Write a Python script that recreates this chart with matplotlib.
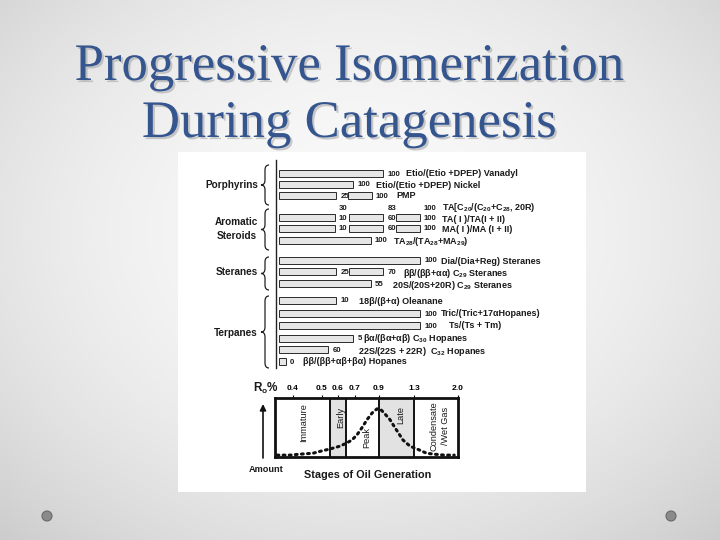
import numpy as np
import matplotlib
matplotlib.use("Agg")
import matplotlib.pyplot as plt
from matplotlib.patches import Rectangle, Circle, PathPatch
from matplotlib.path import Path
import matplotlib.patheffects as pe

plt.rcParams['font.family'] = ['Liberation Sans', 'DejaVu Sans']
plt.rcParams['mathtext.fontset'] = 'custom'
plt.rcParams['mathtext.rm'] = 'Liberation Sans'
plt.rcParams['mathtext.default'] = 'regular'

# ---------------- data ----------------
title_lines = ["Progressive Isomerization", "During Catagenesis"]
groups = ["Porphyrins", "Aromatic\nSteroids", "Steranes", "Terpanes"]

parameters = [
    "Etio/(Etio +DPEP) Vanadyl",
    "Etio/(Etio +DPEP) Nickel",
    "PMP",
    r"TA[C$_{20}$/(C$_{20}$+C$_{28}$, 20R)",
    "TA( I )/TA(I + II)",
    "MA( I )/MA (I + II)",
    r"TA$_{28}$/(TA$_{28}$+MA$_{29}$)",
    "Dia/(Dia+Reg) Steranes",
    r"ββ/(ββ+αα) C$_{29}$ Steranes",
    r"20S/(20S+20R) C$_{29}$ Steranes",
    "18β/(β+α) Oleanane",
    "Tric/(Tric+17αHopanes)",
    "Ts/(Ts + Tm)",
    r"βα/(βα+αβ) C$_{30}$ Hopanes",
    r"22S/(22S + 22R)  C$_{32}$ Hopanes",
    "ββ/(ββ+αβ+βα) Hopanes",
]

# Ro% ranges of the bars (start, end)
segments = [
    [(0.35, 0.95)],
    [(0.35, 0.69)],
    [(0.35, 0.59), (0.66, 0.84)],
    [],
    [(0.35, 0.58), (0.665, 0.95), (1.09, 1.39)],
    [(0.35, 0.58), (0.665, 0.95), (1.09, 1.39)],
    [(0.35, 0.83)],
    [(0.35, 1.40)],
    [(0.35, 0.59), (0.665, 0.95)],
    [(0.35, 0.83)],
    [(0.35, 0.59)],
    [(0.35, 1.40)],
    [(0.35, 1.40)],
    [(0.35, 0.69)],
    [(0.35, 0.54)],
    [(0.35, 0.375)],
]

# ratio values (%) reached at given Ro
value_labels = [
    [(0.95, "100")],
    [(0.69, "100")],
    [(0.59, "25"), (0.84, "100")],
    [(0.58, "30"), (0.95, "83"), (1.39, "100")],
    [(0.58, "10"), (0.95, "60"), (1.39, "100")],
    [(0.58, "10"), (0.95, "60"), (1.39, "100")],
    [(0.83, "100")],
    [(1.40, "100")],
    [(0.59, "25"), (0.95, "70")],
    [(0.83, "55")],
    [(0.59, "10")],
    [(1.40, "100")],
    [(1.40, "100")],
    [(0.69, "5")],
    [(0.54, "60")],
    [(0.375, "0")],
]

ro_ticks = [0.4, 0.5, 0.6, 0.7, 0.9, 1.3, 2.0]
ro_tick_labels = ["0.4", "0.5", "0.6", "0.7", "0.9", "1.3", "2.0"]
stage_names = ["Immature", "Early", "Peak", "Late", "Condensate\n/Wet Gas"]
stage_bounds = [0.338, 0.55, 0.65, 0.9, 1.3, 2.0]
stage_shaded = [False, True, False, True, False]

gen_ro = [0.345, 0.39, 0.424, 0.469, 0.50, 0.55, 0.612, 0.653, 0.682, 0.717,
          0.758, 0.80, 0.842, 0.883, 0.923, 0.969, 1.026, 1.083, 1.174,
          1.254, 1.348, 1.50, 1.62, 1.78, 1.94]
gen_amount = [0.02, 0.02, 0.04, 0.06, 0.11, 0.15, 0.21, 0.28, 0.34, 0.45,
              0.60, 0.77, 0.91, 1.00, 0.98, 0.89, 0.77, 0.60, 0.34,
              0.21, 0.15, 0.06, 0.04, 0.02, 0.02]

# ---------------- layout ----------------
W, H = 720, 540
RO_K = [-1.0, 0.4, 0.5, 0.6, 0.7, 0.9, 1.3, 2.0, 10.0]
PX_K = [293 - 1.4 * 290, 293, 322, 338, 355, 379, 414, 458, 458 + 8 * 63]


def fwd(r):
    return np.interp(r, RO_K, PX_K)


def inv(p):
    return np.interp(p, PX_K, RO_K)


row_y = [173, 184, 195, 207, 217, 228, 240, 260, 271, 283, 300, 313, 325, 338, 349, 361]
name_y = [173, 184, 195, 205.5, 218, 229, 240, 260, 271, 283, 300, 313, 325, 336.5, 350, 361]
name_x = [406, 376, 396, 442, 442, 442, 393, 441, 403, 392, 359, 441, 449, 363, 358, 303]

fig = plt.figure(figsize=(7.2, 5.4), dpi=100)

lay = fig.add_axes([0, 0, 1, 1], zorder=0)
lay.set_xlim(0, W)
lay.set_ylim(H, 0)
lay.axis('off')

# slide background gradient
yy, xx = np.mgrid[0:H:4, 0:W:4]
r = np.sqrt(((xx - 360) / 420.0) ** 2 + ((yy - 230) / 330.0) ** 2)
g = np.clip(0.978 - 0.11 * r ** 2, 0.80, 1.0)
lay.imshow(np.dstack([g, g, g]), extent=(0, W, H, 0), aspect='auto',
           interpolation='bilinear', zorder=0)

# title
for line, yb in zip(title_lines, [80, 137]):
    lay.text(349, yb, line, ha='center', va='baseline', fontsize=38,
             family='Liberation Serif', color='#35558f', zorder=3,
             path_effects=[pe.SimplePatchShadow(offset=(1.5, -1.5),
                                                shadow_rgbFace='#9a9a9a', alpha=0.5),
                           pe.Normal()])

# white picture panel
lay.add_patch(Rectangle((178, 152), 408, 340, facecolor='white',
                        edgecolor='none', zorder=1))

# bottom decoration circles
for cx in (47, 671):
    lay.add_patch(Circle((cx, 516), 5, facecolor='#8a8a8a', edgecolor='#6a6a6a',
                         lw=0.8, zorder=2))


def brace(x, y0, y1, w=8, rr=5):
    ym = (y0 + y1) / 2.0
    xm = x + w / 2.0
    verts = [(x + w, y0), (xm, y0), (xm, y0 + rr), (xm, ym - rr), (xm, ym), (x, ym),
             (xm, ym), (xm, ym + rr), (xm, y1 - rr), (xm, y1), (x + w, y1)]
    codes = [Path.MOVETO, Path.CURVE3, Path.CURVE3, Path.LINETO, Path.CURVE3, Path.CURVE3,
             Path.CURVE3, Path.CURVE3, Path.LINETO, Path.CURVE3, Path.CURVE3]
    lay.add_patch(PathPatch(Path(verts, codes), fill=False, lw=0.9,
                            edgecolor='#222', zorder=3))


group_y = [185, 229, 272, 333]
brace_span = [(165, 205), (209, 250), (257, 290), (296, 368)]
for gname, gy, (b0, b1) in zip(groups, group_y, brace_span):
    lay.text(258, gy, gname, ha='right', va='center', multialignment='center',
             fontsize=7.2, weight='bold', color='#1a1a1a', zorder=3,
             linespacing=1.45)
    brace(261, b0, b1)

# left vertical line of bar panel
lay.plot([275.5, 275.5], [160, 368], color='#222', lw=1.0, zorder=3)

# parameter names
for name, nx, ny in zip(parameters, name_x, name_y):
    lay.text(nx, ny, name, ha='left', va='center_baseline', fontsize=6.5,
             weight='bold', color='#1a1a1a', zorder=4)

# ---------------- bars on Ro scale ----------------
ax = fig.add_axes([0, 0, 1, 1], zorder=2)
ax.set_xscale('function', functions=(fwd, inv))
ax.set_xlim(inv(0), inv(W))
ax.set_ylim(H, 0)
ax.axis('off')

for ry, segs, labs in zip(row_y, segments, value_labels):
    for s, e in segs:
        ax.barh(ry, e - s, left=s, height=7, color='#e6e6e6',
                edgecolor='#2a2a2a', linewidth=0.7)
    for ro, txt in labs:
        ax.annotate(txt, xy=(ro, ry), xytext=(4, 0), textcoords='offset pixels',
                    ha='left', va='center_baseline', fontsize=5.6, weight='bold',
                    color='#1a1a1a')

# ---------------- Ro box ----------------
bx0, bx1, by0, by1 = 275, 458, 398, 457
ax2 = fig.add_axes([bx0 / W, 1 - by1 / H, (bx1 - bx0) / W, (by1 - by0) / H], zorder=3)
ax2.set_xscale('function', functions=(fwd, inv))
ax2.set_xlim(stage_bounds[0], stage_bounds[-1])
ax2.set_ylim(-0.02, 1.23)
ax2.set_facecolor('white')
for i, shaded in enumerate(stage_shaded):
    if shaded:
        ax2.axvspan(stage_bounds[i], stage_bounds[i + 1], color='#e2e2e2', lw=0)
for b in stage_bounds[1:-1]:
    ax2.axvline(b, color='#111', lw=1.4)
ax2.plot(gen_ro, gen_amount, color='#111', lw=2.2, linestyle=(0, (0.6, 1.4)),
         dash_capstyle='round', zorder=5)
for sp in ax2.spines.values():
    sp.set_linewidth(2.0)
    sp.set_color('#111')
ax2.set_yticks([])
ax2.xaxis.tick_top()
ax2.set_xticks(ro_ticks)
ax2.set_xticklabels(ro_tick_labels)
ax2.xaxis.set_minor_locator(matplotlib.ticker.NullLocator())
ax2.tick_params(axis='x', top=True, bottom=False, length=2.5, width=0.8,
                pad=1.5, labelsize=6.0, direction='out')
for t in ax2.get_xticklabels():
    t.set_fontweight('bold')

# overlay for texts above the box
top = fig.add_axes([0, 0, 1, 1], zorder=4)
top.set_xlim(0, W)
top.set_ylim(H, 0)
top.axis('off')

stage_x = [304, 341, 367, 401, 440]
stage_ly = [423, 417, 437, 415, 426]
for sname, sx, sy in zip(stage_names, stage_x, stage_ly):
    top.text(sx, sy, sname, rotation=90, ha='center', va='center',
             multialignment='center', fontsize=6.6, color='#1a1a1a',
             linespacing=1.3)

top.text(253, 392, r"R$_o$%", ha='left', va='baseline', fontsize=8.5,
         weight='bold', color='#1a1a1a')
top.annotate('', xy=(263, 404), xytext=(263, 458),
             arrowprops=dict(arrowstyle='-|>', lw=1.2, color='#111',
                             mutation_scale=9, shrinkA=0, shrinkB=0))
top.text(266, 469, 'Amount', ha='center', va='center', fontsize=6.6,
         weight='bold', color='#1a1a1a')
top.text(368, 475, 'Stages of Oil Generation', ha='center', va='center',
         fontsize=7.8, weight='bold', color='#1a1a1a')

fig.savefig('out.png', dpi=100)
